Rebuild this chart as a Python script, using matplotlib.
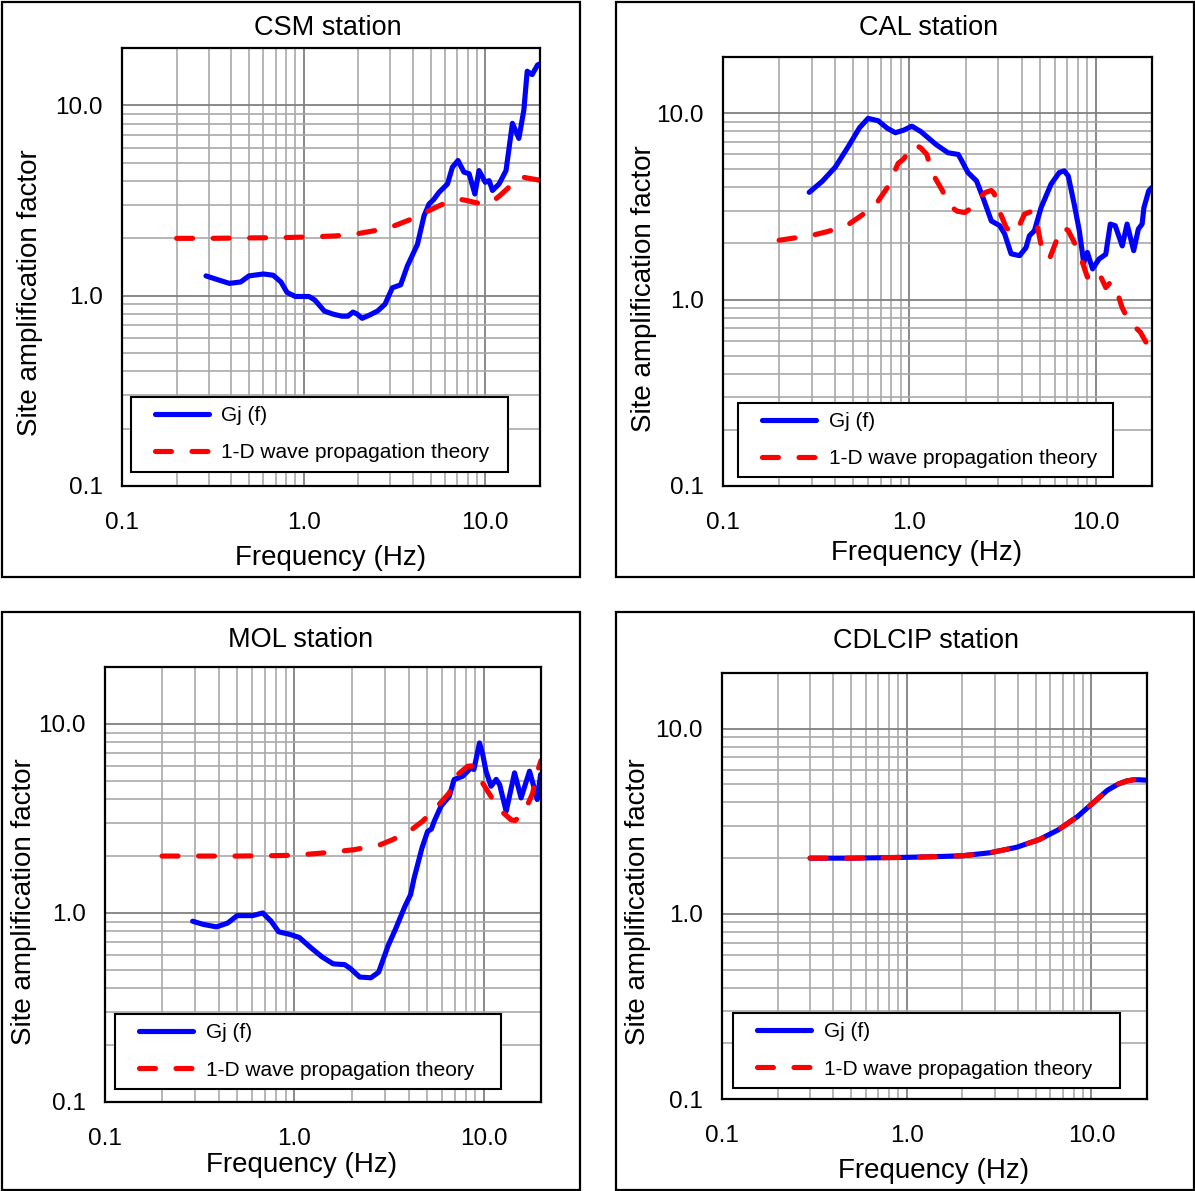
import matplotlib
matplotlib.use("Agg")
import matplotlib.pyplot as plt
from matplotlib.lines import Line2D
from matplotlib.legend_handler import HandlerLine2D
from matplotlib.patches import Rectangle
from matplotlib.ticker import LogLocator, NullFormatter

plt.rcParams['font.family'] = ['Liberation Sans', 'DejaVu Sans']

# ---- values (frequency in Hz, amplification) ----
csm_f_gj = [0.29, 0.33, 0.39, 0.45, 0.50, 0.60, 0.68, 0.75, 0.81, 0.90, 1.07, 1.15, 1.30, 1.45,
            1.62, 1.75, 1.87, 1.97, 2.10, 2.30, 2.55, 2.80, 3.08, 3.42, 3.72, 4.23, 4.60, 4.90,
            5.20, 5.56, 6.19, 6.59, 7.07, 7.62, 8.14, 8.76, 9.23, 10.0, 10.5, 10.95, 11.9, 13.0,
            14.1, 15.3, 16.3, 17.0, 18.1, 19.4, 20.0]
csm_gj = [1.27, 1.22, 1.16, 1.18, 1.27, 1.30, 1.28, 1.18, 1.04, 0.99, 0.99, 0.95, 0.83, 0.80,
          0.78, 0.78, 0.82, 0.80, 0.76, 0.79, 0.83, 0.90, 1.10, 1.14, 1.43, 1.86, 2.63, 3.03,
          3.20, 3.49, 3.86, 4.73, 5.13, 4.46, 4.37, 3.42, 4.54, 3.94, 4.02, 3.57, 3.86, 4.54,
          8.04, 6.70, 9.45, 15.1, 14.5, 16.3, 16.5]
csm_f_1d = [0.2, 0.3, 0.5, 0.8, 1.0, 1.5, 2.0, 2.43, 3.09, 3.74, 4.3, 4.75, 5.63, 6.3, 7.03,
            7.8, 8.85, 9.8, 10.96, 12.0, 13.2, 14.5, 15.6, 17.0, 19.4, 20.0]
csm_1d = [2.0, 2.0, 2.01, 2.02, 2.03, 2.06, 2.12, 2.19, 2.31, 2.48, 2.62, 2.76, 2.98, 3.12, 3.22,
          3.17, 3.08, 3.02, 3.12, 3.35, 3.64, 3.98, 4.22, 4.15, 4.06, 4.03]

cal_f_gj = [0.29, 0.34, 0.40, 0.47, 0.54, 0.60, 0.68, 0.76, 0.84, 0.93, 1.03, 1.15, 1.39, 1.61,
            1.83, 2.06, 2.29, 2.48, 2.75, 3.05, 3.24, 3.51, 3.9, 4.22, 4.4, 4.68, 5.08, 5.75,
            6.36, 6.77, 7.11, 7.65, 8.15, 8.6, 9.0, 9.6, 10.4, 11.3, 11.95, 12.7, 13.85, 14.7,
            15.95, 16.9, 17.7, 18.1, 19.2, 20.0]
cal_gj = [3.76, 4.30, 5.13, 6.62, 8.35, 9.37, 9.1, 8.3, 7.85, 8.1, 8.51, 7.97, 6.78, 6.13,
          6.0, 4.8, 4.33, 3.52, 2.64, 2.49, 2.25, 1.76, 1.72, 1.90, 2.2, 2.34, 3.11, 4.16,
          4.8, 4.9, 4.6, 3.25, 2.34, 1.58, 1.79, 1.46, 1.65, 1.75, 2.54, 2.49, 1.94, 2.54,
          1.83, 2.39, 2.54, 3.11, 3.83, 4.0]
cal_f_1d = [0.2, 0.3, 0.36, 0.46, 0.54, 0.60, 0.68, 0.76, 0.87, 0.93, 1.0, 1.07, 1.15, 1.24,
            1.32, 1.49, 1.65, 1.80, 1.98, 2.15, 2.33, 2.55, 2.75, 2.85, 3.05, 3.30, 3.55, 3.81,
            4.14, 4.58, 4.87, 5.09, 5.63, 6.1, 6.64, 7.1, 7.65, 8.3, 9.0, 9.6, 10.2, 10.8, 11.3,
            12.0, 12.5, 13.0, 13.8, 15.0, 16.0, 17.3, 19.2, 20.0]
cal_1d = [2.08, 2.21, 2.31, 2.49, 2.78, 3.0, 3.38, 3.98, 5.38, 5.67, 6.3, 6.8, 6.5, 6.0,
          4.8, 3.9, 3.18, 2.98, 2.93, 3.1, 3.45, 3.75, 3.85, 3.7, 2.95, 2.44, 2.25, 2.39,
          2.87, 2.99, 2.44, 1.94, 1.65, 2.03, 2.44, 2.35, 2.03, 1.68, 1.32, 1.34, 1.43, 1.28, 1.16,
          1.24, 1.21, 1.1, 0.91, 0.77, 0.72, 0.67, 0.556, 0.53]

mol_f_gj = [0.29, 0.33, 0.387, 0.444, 0.498, 0.60, 0.68, 0.753, 0.825, 0.946, 1.06, 1.22, 1.40,
            1.60, 1.84, 1.97, 2.21, 2.53, 2.78, 3.12, 3.42, 3.83, 4.1, 4.28, 4.71, 5.04, 5.28,
            5.46, 5.93, 6.56, 6.96, 7.73, 8.52, 8.85, 9.47, 9.85, 10.25, 10.9, 11.6, 12.1, 13.1,
            14.5, 15.7, 17.4, 18.3, 19.1, 19.9]
mol_gj = [0.904, 0.87, 0.844, 0.884, 0.968, 0.968, 1.0, 0.904, 0.795, 0.77, 0.742, 0.655, 0.585,
          0.538, 0.533, 0.509, 0.458, 0.454, 0.486, 0.671, 0.825, 1.086, 1.25, 1.53, 2.21, 2.70, 2.78,
          3.05, 3.67, 4.14, 5.08, 5.29, 5.85, 5.74, 7.93, 6.9, 5.62, 4.68, 5.09, 4.77, 3.45,
          5.51, 4.06, 5.62, 4.68, 3.98, 5.4]
mol_f_1d = [0.2, 0.3, 0.5, 0.8, 1.0, 1.37, 2.06, 2.85, 3.29, 4.03, 4.73, 5.57, 6.56, 7.1, 8.2,
            8.6, 9.47, 10.6, 12.1, 13.9, 14.6, 15.5, 16.7, 18.1, 18.8, 20.0]
mol_1d = [2.0, 2.0, 2.0, 2.01, 2.02, 2.07, 2.16, 2.3, 2.44, 2.7, 3.05, 3.59, 4.31, 5.29, 5.97,
          6.0, 5.18, 4.31, 3.52, 3.11, 3.08, 3.25, 3.59, 4.31, 5.29, 6.4]

cdl_f_gj = [0.3, 0.5, 1.0, 1.5, 2.0, 2.84, 3.94, 5.22, 6.6, 8.4, 10.1, 12.2, 14.0, 15.5, 16.9,
            18.0, 19.4, 20.0]
cdl_gj = [2.0, 2.0, 2.02, 2.04, 2.06, 2.14, 2.29, 2.52, 2.84, 3.35, 3.94, 4.65, 5.03, 5.22, 5.3,
          5.3, 5.28, 5.27]
cdl_f_1d = [0.3, 0.5, 1.0, 1.5, 2.0, 2.84, 3.94, 5.22, 6.6, 8.4, 10.1, 12.2, 14.0, 15.5, 16.9,
            18.0, 19.4, 20.0]
cdl_1d = [2.0, 2.0, 2.02, 2.04, 2.06, 2.14, 2.29, 2.52, 2.84, 3.35, 3.94, 4.65, 5.03, 5.22, 5.3,
          5.3, 5.28, 5.27]

tick_values = [0.1, 1.0, 10.0]
tick_labels = ['0.1', '1.0', '10.0']

W, H = 1195, 1191


def frac_box(x0, y0, x1, y1):
    # pixel box measured from the top-left corner -> figure fraction
    return [x0 / W, 1 - y1 / H, (x1 - x0) / W, (y1 - y0) / H]


# layout of each panel in reference pixels
panels = [
    dict(title='CSM station', f_gj=csm_f_gj, gj=csm_gj, f_1d=csm_f_1d, a_1d=csm_1d,
         frame=(2, 2, 580, 577), axes=(122, 48, 540, 486),
         title_xy=(328, 28), ylab_xy=(30, 293), xlab_xy=(331, 558), leg=(0.021, 0.033, 0.902)),
    dict(title='CAL station', f_gj=cal_f_gj, gj=cal_gj, f_1d=cal_f_1d, a_1d=cal_1d,
         frame=(616, 2, 1194, 577), axes=(723, 57, 1152, 486),
         title_xy=(929, 28), ylab_xy=(644, 289), xlab_xy=(927, 553), leg=(0.035, 0.02, 0.874)),
    dict(title='MOL station', f_gj=mol_f_gj, gj=mol_gj, f_1d=mol_f_1d, a_1d=mol_1d,
         frame=(2, 612, 580, 1190), axes=(105, 667, 541, 1102),
         title_xy=(301, 640), ylab_xy=(24, 902), xlab_xy=(302, 1165), leg=(0.023, 0.03, 0.885)),
    dict(title='CDLCIP station', f_gj=cdl_f_gj, gj=cdl_gj, f_1d=cdl_f_1d, a_1d=cdl_1d,
         frame=(616, 612, 1194, 1190), axes=(722, 673, 1147, 1099),
         title_xy=(926, 641), ylab_xy=(638, 902), xlab_xy=(934, 1171), leg=(0.026, 0.026, 0.91)),
]

fig = plt.figure(figsize=(W / 100, H / 100), dpi=100)

for p in panels:
    x0, y0, x1, y1 = p['frame']
    l, b, w, h = frac_box(x0, y0, x1, y1)
    fig.add_artist(Rectangle((l, b), w, h, transform=fig.transFigure, fill=False,
                             edgecolor='black', linewidth=1.6))

    ax = fig.add_axes(frac_box(*p['axes']))
    ax.set_xscale('log')
    ax.set_yscale('log')
    ax.set_xlim(0.1, 20)
    ax.set_ylim(0.1, 20)
    for axis in (ax.xaxis, ax.yaxis):
        axis.set_major_locator(LogLocator(base=10, subs=(1.0,)))
        axis.set_minor_locator(LogLocator(base=10, subs=range(2, 10)))
        axis.set_minor_formatter(NullFormatter())
    ax.set_xticks(tick_values)
    ax.set_xticklabels(tick_labels)
    ax.set_yticks(tick_values)
    ax.set_yticklabels(tick_labels)
    ax.tick_params(which='both', length=0, labelsize=17.5)
    ax.tick_params(axis='x', pad=18.5)
    ax.tick_params(axis='y', pad=14)
    ax.grid(which='major', color='#808080', linewidth=1.3)
    ax.grid(which='minor', color='#a9a9a9', linewidth=1.2)
    ax.set_axisbelow(True)
    for sp in ax.spines.values():
        sp.set_color('black')
        sp.set_linewidth(1.6)

    g_line, = ax.plot(p['f_gj'], p['gj'], color='#0000ff', linewidth=3.7,
                      solid_capstyle='round', solid_joinstyle='round', label='Gj (f)')
    t_line, = ax.plot(p['f_1d'], p['a_1d'], color='#ff0000', linewidth=3.7,
                      dashes=(3.1, 4.0), dash_capstyle='round', label='1-D wave propagation theory')

    lx, ly, lw = p['leg']
    leg = ax.legend(handles=[g_line, t_line], loc='lower left', bbox_to_anchor=(lx, ly, lw, 0.3),
                    mode='expand', borderaxespad=0, fontsize=15, frameon=True, fancybox=False,
                    edgecolor='black', framealpha=1, borderpad=0.45, labelspacing=0.87,
                    handlelength=4.0, handletextpad=-0.1,
                    handler_map={Line2D: HandlerLine2D(numpoints=2, marker_pad=0.7)})
    leg.get_frame().set_linewidth(1.5)

    tx, ty = p['title_xy']
    fig.text(tx / W, 1 - ty / H, p['title'], ha='center', va='center', fontsize=19.5)
    yx, yy = p['ylab_xy']
    fig.text(yx / W, 1 - yy / H, 'Site amplification factor', ha='center', va='center',
             rotation=90, fontsize=20)
    xx, xy = p['xlab_xy']
    fig.text(xx / W, 1 - xy / H, 'Frequency (Hz)', ha='center', va='center', fontsize=20)

fig.savefig('out.png', dpi=100)
